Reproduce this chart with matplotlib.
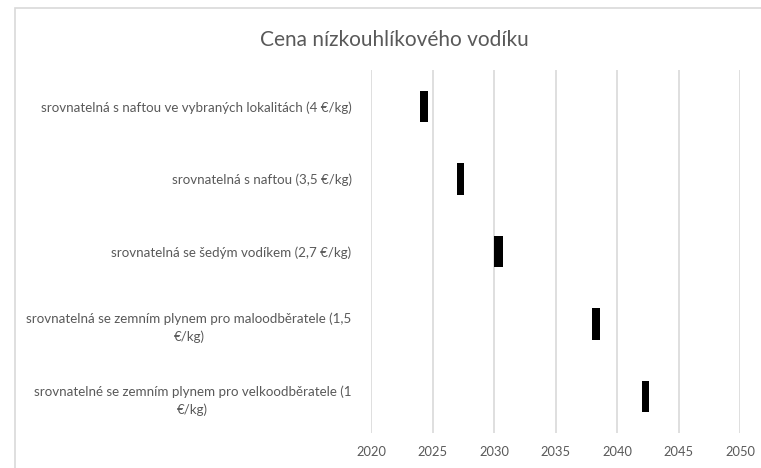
import matplotlib.pyplot as plt
from matplotlib.patches import Rectangle

# categories (top to bottom)
labels = [
    'srovnatelná s naftou ve vybraných lokalitách (4 €/kg)',
    'srovnatelná s naftou (3,5 €/kg)',
    'srovnatelná se šedým vodíkem (2,7 €/kg)',
    'srovnatelná se zemním plynem pro maloodběratele (1,5\n€/kg)',
    'srovnatelné se zemním plynem pro velkoodběratele (1\n€/kg)',
]
start_year = [2024, 2027, 2030, 2038, 2042]
duration = [0.6, 0.6, 0.7, 0.6, 0.6]
year_ticks = [2020, 2025, 2030, 2035, 2040, 2045, 2050]

text_color = '#595959'
grid_color = '#d9d9d9'

plt.rcParams['font.family'] = ['Lato', 'DejaVu Sans']

fig = plt.figure(figsize=(7.61, 4.68), dpi=100)
ax = fig.add_axes([371 / 761, 1 - 433 / 468, (740 - 371) / 761, (433 - 70) / 468])

# chart border like the spreadsheet frame
fig.patches.append(Rectangle((14.5 / 761, -0.1), 1.2, 1 - 8 / 468 + 0.1,
                             transform=fig.transFigure, fill=False,
                             edgecolor=grid_color, linewidth=1.2))

positions = list(range(len(labels)))
ax.barh(positions, duration, left=start_year, height=0.43, color='black')

ax.set_xlim(2020, 2050)
ax.set_ylim(len(labels) - 0.5, -0.5)
ax.set_xticks(year_ticks)
ax.xaxis.grid(True, color=grid_color, linewidth=1.2)
ax.set_axisbelow(True)
for s in ax.spines.values():
    s.set_visible(False)

ax.set_yticks(positions)
ax.set_yticklabels(labels, multialignment='center', linespacing=1.5)
ax.tick_params(axis='both', length=0, colors=text_color)
ax.tick_params(axis='x', pad=9, labelsize=9.3)
ax.tick_params(axis='y', pad=14, labelsize=9.6)

fig.text(394 / 761, 1 - 40 / 468, 'Cena nízkouhlíkového vodíku',
         ha='center', va='center', fontsize=15, color=text_color)

fig.savefig('out.png', dpi=100)
